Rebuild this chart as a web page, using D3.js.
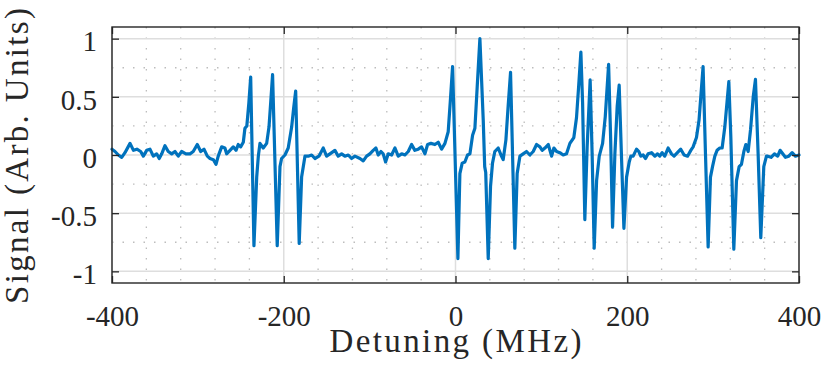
<!DOCTYPE html>
<html>
<head>
<meta charset="utf-8">
<script src="https://cdn.jsdelivr.net/npm/d3@7"></script>
<style>
    body { margin: 0; background: #fff; }
    #chart { width: 830px; height: 373px; }
</style>
</head>
<body>
<div id="chart"></div>
<script>
// values
var detuning = [
    -400, -396.5, -392.6, -388.7, -384.9, -379, -375, -371, -366.6, -363.5, -359.6, -355.8, -351.9, -348, -345,
    -342.1, -338.3, -334.5, -330.5, -326.7, -322.8, -318.9, -313.9, -309.2, -305.4, -300.7, -296.7, -292.9, -289,
    -285.9, -282, -278.9, -276.3, -272.3, -268.5, -266.5, -262.6, -258.8, -255.6, -253, -250.2, -247.1, -245.2,
    -243, -240.6, -238.5, -234.7, -231.5, -229.6, -227.7, -223.9, -219.9, -217.2, -215.2, -213, -207.6, -204.4,
    -202.5, -198.6, -194.8, -190.8, -188.5, -186.1, -182, -179.2, -175.3, -171.5, -167.5, -163.7, -159, -154,
    -150.1, -146.2, -140.4, -136.6, -132.6, -128.8, -124.9, -121, -117.1, -111.3, -107.4, -103.5, -99.7, -95.8,
    -92.7, -90, -86.8, -84.2, -81.4, -78.3, -74.4, -70.5, -66.7, -62.7, -58.9, -55, -51.1, -47.3, -43.4, -39.5,
    -35.6, -32.5, -28.6, -24, -20.1, -16.2, -12.3, -8.5, -5.7, -3.4, 2.8, 5.1, 7.8, 10.9, 14, 16.8, 19.9, 22.6,
    25.3, 28.4, 32.3, 34, 35.2, 38.1, 40.8, 43.1, 45.8, 49.7, 53.5, 55.5, 58.7, 61.3, 64.1, 69.1, 71.8, 75, 78.8,
    82.7, 86.6, 90.5, 94.4, 98.3, 101, 104.1, 108, 111.9, 114.6, 117.7, 121.5, 125.4, 129.3, 133.2, 137.8, 140.9,
    143.5, 146, 148, 150.6, 153.3, 156.8, 159.1, 161.5, 164.3, 167.4, 171.3, 174.4, 178.3, 180.6, 182.9, 185.6,
    188.3, 190.6, 193.4, 196.1, 199.2, 202.3, 204.2, 206.9, 210.8, 213.5, 215.8, 218.5, 221.3, 224.3, 228.3,
    232.1, 235.3, 237.9, 240.6, 243.7, 247.6, 251.5, 254.5, 258.4, 262.3, 266.2, 270.2, 274, 276.7, 280.6, 283.6,
    288.3, 291.1, 294.2, 296.9, 299.3, 302, 304.6, 307.8, 310.5, 313.6, 318.3, 320.6, 324.1, 327.2, 330.3, 333,
    335.8, 338.1, 340.8, 343.6, 346.7, 349.3, 352.4, 355.5, 359, 362.1, 363.6, 367.5, 371.4, 375.2, 378, 381.1,
    384.2, 388.1, 392, 395.8, 400
];
var signal = [
    0.05, 0.03, 0.0, -0.02, 0.02, 0.10, 0.04, 0.05, 0.03, -0.01, 0.04, 0.05, -0.01, 0.01, -0.03,
    0.01, 0.08, 0.03, 0.01, 0.03, -0.01, 0.03, 0.01, 0.01, 0.03, 0.09, 0.03, 0.05, -0.01,
    -0.03, -0.04, -0.08, -0.01, 0.07, 0.06, 0.01, 0.04, 0.07, 0.04, 0.09, 0.07, 0.11, 0.23,
    0.25, 0.45, 0.67, -0.78, -0.19, -0.01, 0.10, 0.06, 0.10, 0.24, 0.45, 0.69, -0.78, -0.10,
    -0.03, 0.0, 0.06, 0.24, 0.40, 0.55, -0.76, -0.19, -0.01, -0.01, 0.0, -0.03, -0.01, 0.06,
    -0.01, 0.01, 0.04, -0.01, 0.01, -0.01, 0.0, -0.03, -0.01, -0.03, -0.05, -0.01, 0.01, 0.04,
    0.06, 0.0, 0.03, 0.01, -0.06, 0.01, 0.0, 0.06, -0.01, 0.01, 0.0, 0.03, 0.09, 0.04, 0.05, 0.07,
    0.01, 0.09, 0.10, 0.09, 0.11, 0.05, 0.10, 0.20, 0.50, 0.76, -0.89, -0.16, -0.07, -0.06, 0.0, 0.01, 0.17, 0.23,
    0.59, 1.0, 0.30, -0.10, -0.15, -0.89, -0.27, -0.07, 0.03, 0.06, -0.01, -0.04, 0.13, 0.42, 0.71, -0.80, -0.16, -0.01, 0.01,
    0.03, 0.0, 0.03, 0.09, 0.07, 0.04, 0.06, 0.09, -0.01, 0.06, 0.03, 0.02, 0.0, 0.01, 0.10, 0.15, 0.32,
    0.60, 0.885, 0.45, -0.555, 0.07, 0.645, 0.01, -0.80, -0.22, -0.01, 0.10, 0.33, 0.78, 0.16, -0.62, 0.01,
    0.42, 0.60, -0.04, -0.63, -0.19, -0.06, -0.01, -0.01, 0.05, 0.03, -0.01, 0.0, -0.03, 0.01, 0.02,
    -0.01, 0.01, -0.01, 0.02, -0.01, 0.06, 0.01, -0.01, 0.02, 0.05, 0.0, -0.01, 0.04, 0.07, 0.15, 0.30,
    0.76, 0.01, -0.79, -0.19, -0.10, -0.01, 0.04, 0.06, 0.06, 0.24, 0.63, 0.16, -0.81, -0.22, -0.10, -0.08,
    0.03, 0.09, 0.03, 0.22, 0.50, 0.65, 0.01, -0.71, -0.10, -0.01, -0.01, -0.02, 0.01, -0.01, 0.04, 0.01,
    -0.02, -0.01, 0.02, -0.01, 0.0
];
var xTicks = [-400, -200, 0, 200, 400];
var xMinor = [-360, -320, -280, -240, -160, -120, -80, -40, 40, 80, 120, 160, 240, 280, 320, 360];
var yTicks = [-1, -0.5, 0, 0.5, 1];
var yMinor = [-0.75, -0.25, 0.25, 0.75];

var FONT = "'Liberation Serif', 'Times New Roman', Times, serif";

function init() {
    var margin = { top: 27, right: 31, bottom: 90, left: 112 },
        width = 830 - margin.left - margin.right,
        height = 373 - margin.top - margin.bottom;

    var svg = d3.select("#chart")
        .append("svg")
        .attr("width", 830)
        .attr("height", 373);

    var SVG = svg.append("g")
        .attr("transform", "translate(" + margin.left + "," + margin.top + ")");

    var x = d3.scaleLinear().domain([-400, 400]).range([0, width]);
    var y = d3.scaleLinear().domain([-1.1, 1.1]).range([height, 0]);

    // minor grid (dotted)
    SVG.append("g").selectAll("line")
        .data(xMinor)
        .enter().append("line")
        .attr("x1", d => x(d)).attr("x2", d => x(d))
        .attr("y1", 0).attr("y2", height)
        .attr("stroke", "#bdbdbd").attr("stroke-width", 1.3)
        .attr("stroke-dasharray", "1.5,9");
    SVG.append("g").selectAll("line")
        .data(yMinor)
        .enter().append("line")
        .attr("x1", 0).attr("x2", width)
        .attr("y1", d => y(d)).attr("y2", d => y(d))
        .attr("stroke", "#bdbdbd").attr("stroke-width", 1.3)
        .attr("stroke-dasharray", "1.5,9");

    // major grid
    SVG.append("g").selectAll("line")
        .data(xTicks)
        .enter().append("line")
        .attr("x1", d => x(d)).attr("x2", d => x(d))
        .attr("y1", 0).attr("y2", height)
        .attr("stroke", "#dedede").attr("stroke-width", 1.5);
    SVG.append("g").selectAll("line")
        .data(yTicks)
        .enter().append("line")
        .attr("x1", 0).attr("x2", width)
        .attr("y1", d => y(d)).attr("y2", d => y(d))
        .attr("stroke", "#dedede").attr("stroke-width", 1.5);

    var pts = detuning.map((d, i) => [d, signal[i]]);
    var line = d3.line()
        .x(d => x(d[0]))
        .y(d => y(d[1]));

    SVG.append("path")
        .datum(pts)
        .attr("d", line)
        .attr("fill", "none")
        .attr("stroke", "#0072BD")
        .attr("stroke-width", 3.2)
        .attr("stroke-linejoin", "round")
        .attr("stroke-linecap", "round");

    // axes, ticks pointing inward
    var fmt = d => String(d);
    var xAxis = SVG.append("g")
        .attr("transform", "translate(0," + height + ")")
        .call(d3.axisBottom(x).tickValues(xTicks).tickFormat(fmt).tickSize(-7).tickSizeOuter(0).tickPadding(22));
    var yAxis = SVG.append("g")
        .call(d3.axisLeft(y).tickValues(yTicks).tickFormat(fmt).tickSize(-7).tickSizeOuter(0).tickPadding(15));
    SVG.append("g")
        .call(d3.axisTop(x).tickValues(xTicks).tickFormat("").tickSize(-7).tickSizeOuter(0));
    SVG.append("g")
        .attr("transform", "translate(" + width + ",0)")
        .call(d3.axisRight(y).tickValues(yTicks).tickFormat("").tickSize(-7).tickSizeOuter(0));

    SVG.selectAll(".domain").remove();
    SVG.selectAll(".tick line").attr("stroke", "#262626").attr("stroke-width", 1.3);
    SVG.selectAll(".tick text")
        .attr("fill", "#262626")
        .style("font-family", FONT)
        .style("font-size", "29px");
    yAxis.selectAll(".tick text").attr("dy", "0.42em");

    SVG.append("rect")
        .attr("width", width)
        .attr("height", height)
        .attr("fill", "none")
        .attr("stroke", "#262626")
        .attr("stroke-width", 1.4);

    // axis labels
    svg.append("text")
        .attr("x", margin.left + width / 2)
        .attr("y", 352)
        .attr("text-anchor", "middle")
        .attr("textLength", 252)
        .attr("lengthAdjust", "spacing")
        .attr("fill", "#262626")
        .style("font-family", FONT)
        .style("font-size", "33px")
        .text("Detuning (MHz)");

    svg.append("text")
        .attr("transform", "translate(28,156) rotate(-90)")
        .attr("text-anchor", "middle")
        .attr("textLength", 296)
        .attr("lengthAdjust", "spacing")
        .attr("fill", "#262626")
        .style("font-family", FONT)
        .style("font-size", "33px")
        .text("Signal (Arb. Units)");
}

window.onload = init;
</script>
</body>
</html>
